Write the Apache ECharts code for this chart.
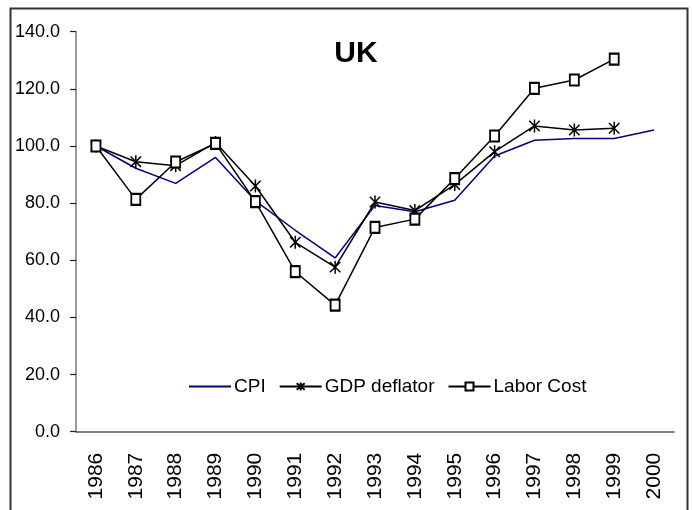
<!DOCTYPE html>
<html>
<head>
<meta charset="utf-8">
<script src="https://cdn.jsdelivr.net/npm/echarts@6/dist/echarts.min.js"></script>
<style>
  html, body { margin: 0; padding: 0; background: #fff; }
  #main { width: 692px; height: 510px; }
</style>
</head>
<body>
<div id="main"></div>
<script>
// 年份
var years = ['1986', '1987', '1988', '1989', '1990', '1991', '1992', '1993',
             '1994', '1995', '1996', '1997', '1998', '1999', '2000'];
// 各指标 (1986 = 100)
var cpi = [100, 92.2, 86.9, 96.0, 80.8, 70.5, 60.8, 79.2, 77.0, 81.0, 96.5, 102.0, 102.6, 102.6, 105.6];
var gdpDeflator = [100, 94.5, 93.1, 101.2, 86.0, 66.3, 57.6, 80.4, 77.4, 86.5, 98.0, 107.0, 105.6, 106.2, null];
var laborCost = [100, 81.3, 94.4, 100.9, 80.5, 56.0, 44.3, 71.5, 74.4, 88.6, 103.5, 120.2, 123.1, 130.4, null];
var yTicks = [0, 20, 40, 60, 80, 100, 120, 140];

var FONT = '"Liberation Sans", Arial, sans-serif';
var STAR = 'path://M0,-10L0,10M-8,-8L8,8M-8,8L8,-8';

var chart = echarts.init(document.getElementById('main'));

var option = {
    animation: false,
    backgroundColor: '#fff',
    title: {
        text: 'UK',
        left: 351,
        top: 34,
        textAlign: 'center',
        textStyle: { fontFamily: FONT, fontSize: 30, fontWeight: 'bold', color: '#000' }
    },
    legend: {
        left: 183,
        top: 372,
        itemWidth: 42,
        itemHeight: 10,
        itemGap: 13,
        textStyle: { fontFamily: FONT, fontSize: 19, color: '#000', padding: [0, 0, 0, -2] },
        data: [
            { name: 'CPI', itemStyle: { opacity: 0 } },
            'GDP deflator',
            'Labor Cost'
        ]
    },
    grid: { left: 76, right: 18, top: 31.7, bottom: 78.3, containLabel: false },
    xAxis: {
        type: 'category',
        data: years,
        boundaryGap: true,
        axisLine: { lineStyle: { color: '#555', width: 1.5 } },
        axisTick: { length: 6, lineStyle: { color: '#222', width: 1.2 } },
        axisLabel: { rotate: 90, margin: 21, fontFamily: FONT, fontSize: 21, color: '#000' },
        splitLine: { show: false }
    },
    yAxis: {
        type: 'value',
        min: yTicks[0],
        max: yTicks[yTicks.length - 1],
        interval: 20,
        axisLine: { show: true, lineStyle: { color: '#777', width: 1.5 } },
        axisTick: { show: true, length: 6, lineStyle: { color: '#222', width: 1.2 } },
        axisLabel: {
            margin: 16, fontFamily: FONT, fontSize: 18, color: '#000',
            formatter: function (v) { return v.toFixed(1); }
        },
        splitLine: { show: false }
    },
    series: [
        {
            name: 'CPI', type: 'line', data: cpi,
            symbol: 'none',
            lineStyle: { color: '#000080', width: 1.5 },
            itemStyle: { color: '#000080' }
        },
        {
            name: 'GDP deflator', type: 'line', data: gdpDeflator,
            symbol: STAR, symbolSize: 13, symbolKeepAspect: true,
            lineStyle: { color: '#000', width: 1.5 },
            itemStyle: { color: '#000', borderColor: '#000', borderWidth: 1.5 }
        },
        {
            name: 'Labor Cost', type: 'line', data: laborCost,
            symbol: 'emptyRect', symbolSize: [9, 11],
            lineStyle: { color: '#000', width: 1.5 },
            itemStyle: { color: '#000', borderColor: '#000', borderWidth: 1.5 }
        }
    ],
    graphic: [{
        type: 'rect',
        shape: { x: 10.5, y: 8.5, width: 677, height: 520 },
        style: { fill: null, stroke: '#333', lineWidth: 2 },
        silent: true
    }]
};

chart.setOption(option);
</script>
</body>
</html>
